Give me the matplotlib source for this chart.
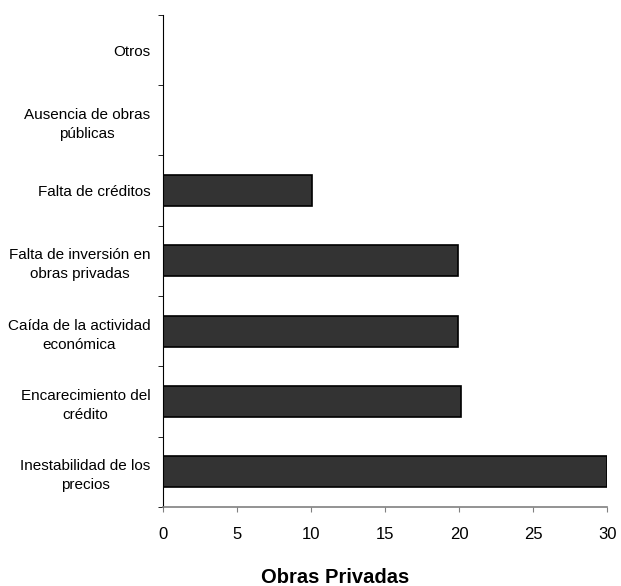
import matplotlib
matplotlib.use("Agg")
import matplotlib.pyplot as plt
import numpy as np

categories = [
    "Inestabilidad de los\nprecios",
    "Encarecimiento del\ncrédito",
    "Caída de la actividad\neconómica",
    "Falta de inversión en\nobras privadas",
    "Falta de créditos",
    "Ausencia de obras\npúblicas",
    "Otros",
]
values = [30, 20.1, 19.9, 19.9, 10.1, 0, 0]
xticks = [0, 5, 10, 15, 20, 25, 30]

plt.rcParams['font.family'] = ['Liberation Sans', 'DejaVu Sans']

fig = plt.figure(figsize=(6.21, 5.86), dpi=100)
ax = fig.add_axes([0.262, 0.135, 0.716, 0.8396])

y = np.arange(len(categories))
ax.barh(y, values, height=0.44, color='#333333', edgecolor='black', linewidth=1.2)

ax.set_xlim(0, 30)
ax.set_ylim(-0.5, len(categories) - 0.5)

ax.set_xticks(xticks)
ax.set_xticklabels([str(t) for t in xticks], fontsize=12)
ax.tick_params(axis='x', direction='out', length=3.6, color='#808080', pad=11)

ax.set_yticks(y)
ax.set_yticklabels(categories, fontsize=11, multialignment='center', linespacing=1.45)
ax.tick_params(axis='y', which='major', length=0, pad=9)
ax.set_yticks(np.arange(-0.5, len(categories), 1.0), minor=True)
ax.tick_params(axis='y', which='minor', direction='out', length=3.6, color='black')

for sp in ['top', 'right']:
    ax.spines[sp].set_visible(False)
ax.spines['left'].set_color('black')
ax.spines['bottom'].set_color('#808080')
ax.spines['bottom'].set_linewidth(1.2)

ax.set_xlabel("Obras Privadas", fontsize=14.5, fontweight='bold')
ax.xaxis.set_label_coords(0.388, -0.124)

fig.savefig("out.png", dpi=100)
